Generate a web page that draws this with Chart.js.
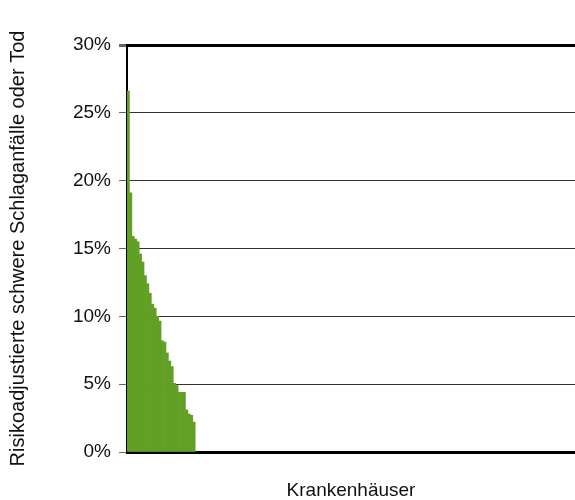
<!DOCTYPE html>
<html>
<head>
<meta charset="utf-8">
<script src="https://cdn.jsdelivr.net/npm/chart.js@4"></script>
<style>
  html, body { margin: 0; padding: 0; background: #fff; }
  canvas { display: block; }
</style>
</head>
<body>
<canvas id="riskChart" width="575" height="500"></canvas>
<script>
// Risk-adjusted rate per hospital (%), sorted descending
const riskValues = [26.6, 19.1, 15.9, 15.7, 15.5, 14.6, 14.0, 13.0, 12.4, 11.7,
                    10.9, 10.6, 10.0, 9.65, 8.2, 8.1, 7.3, 6.7, 6.3, 5.06,
                    4.9, 4.4, 4.4, 4.4, 3.1, 2.8, 2.7, 2.2];
const hospitalCount = 184; // number of slots on the x axis
const yTicks = [0, 5, 10, 15, 20, 25, 30];

const hospitals = Array.from({ length: hospitalCount }, (_, i) => 'KH ' + (i + 1));
const seriesData = hospitals.map((_, i) => (i < riskValues.length ? riskValues[i] : null));

const FONT = "'Liberation Sans', Arial, sans-serif";

var ctx = document.getElementById('riskChart').getContext('2d');
var chart = new Chart(ctx, {
    type: 'bar',
    data: {
        labels: hospitals,
        datasets: [{
            label: 'Risikoadjustierte Rate',
            data: seriesData,
            backgroundColor: 'rgb(97, 160, 37)',
            borderWidth: 0,
            barPercentage: 1,
            categoryPercentage: 1
        }]
    },
    options: {
        responsive: false,
        animation: false,
        layout: { padding: { top: 45, right: 0, left: 0, bottom: 0 } },
        plugins: {
            legend: { display: false },
            tooltip: { enabled: false }
        },
        scales: {
            x: {
                grid: { display: false },
                ticks: { display: false },
                border: { color: '#000', width: 3 },
                title: {
                    display: true,
                    text: 'Krankenhäuser',
                    color: '#111',
                    font: { family: FONT, size: 19, lineHeight: 1 },
                    padding: { top: 0, bottom: 0 }
                },
                afterFit: function (scale) { scale.height = 48; }
            },
            y: {
                min: 0,
                max: 30,
                afterBuildTicks: function (scale) {
                    scale.ticks = yTicks.map(v => ({ value: v }));
                },
                ticks: {
                    color: '#111',
                    padding: 8,
                    font: { family: FONT, size: 19 },
                    callback: function (v) { return v + '%'; }
                },
                grid: {
                    color: function (c) { return c.tick && c.tick.value === 30 ? '#000' : '#333'; },
                    lineWidth: function (c) { return c.tick && c.tick.value === 30 ? 3 : 1; },
                    tickLength: 8,
                    tickColor: '#666'
                },
                border: { color: '#000', width: 2 },
                title: {
                    display: true,
                    text: 'Risikoadjustierte schwere Schlaganfälle oder Tod',
                    color: '#111',
                    font: { family: FONT, size: 20, lineHeight: 1 },
                    padding: { top: 8, bottom: 0 }
                },
                afterFit: function (scale) { scale.width = 127; }
            }
        }
    }
});
</script>
</body>
</html>
